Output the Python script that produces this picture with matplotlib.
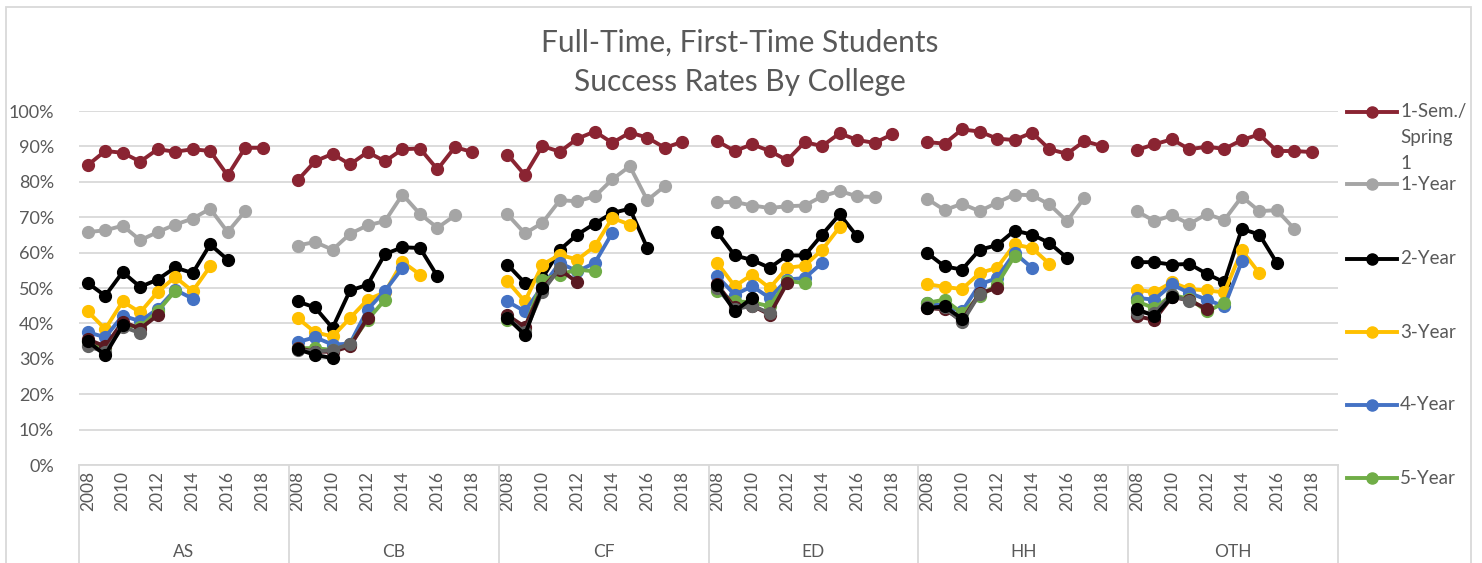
import numpy as np
import matplotlib.pyplot as plt
from matplotlib.lines import Line2D
from matplotlib.patches import Rectangle

plt.rcParams['font.family'] = ['Lato', 'DejaVu Sans']

colleges = ['AS', 'CB', 'CF', 'ED', 'HH', 'OTH']
n_slots = 12  # 2008..2019 per college, the 2019 slot stays empty
tick_years = [2008, 2010, 2012, 2014, 2016, 2018]

names = ['1-Sem./\nSpring\n1', '1-Year', '2-Year', '3-Year', '4-Year', '5-Year',
         '6-Year', '7-Year', '8-Year']
colors = ['#8A2432', '#A5A5A5', '#000000', '#FFC000', '#4472C4', '#70AD47',
          '#5A1A22', '#636363', '#000000']

# success rate (%) per college, starting at 2008
sem1 = [[84.7, 88.7, 88.2, 85.7, 89.2, 88.5, 89.2, 88.7, 81.8, 89.6, 89.6],
        [80.4, 85.8, 87.9, 84.9, 88.4, 85.8, 89.2, 89.4, 83.5, 89.8, 88.4],
        [87.7, 81.9, 90.1, 88.5, 92.2, 94.2, 91.0, 93.9, 92.5, 89.6, 91.3],
        [91.5, 88.7, 90.6, 88.7, 86.1, 91.2, 90.1, 93.7, 91.8, 91.0, 93.4],
        [91.2, 90.8, 94.8, 94.2, 92.2, 91.8, 93.9, 89.2, 87.9, 91.5, 90.1],
        [89.0, 90.6, 92.0, 89.2, 89.9, 89.3, 91.8, 93.4, 88.7, 88.7, 88.4]]
yr1 = [[65.8, 66.3, 67.6, 63.5, 65.8, 67.9, 69.6, 72.4, 65.8, 71.7],
       [62.0, 63.0, 60.8, 65.3, 67.7, 68.9, 76.4, 70.9, 67.0, 70.5],
       [70.8, 65.4, 68.4, 74.8, 74.5, 75.9, 80.7, 84.4, 74.8, 78.8],
       [74.2, 74.3, 73.3, 72.6, 73.1, 73.3, 75.9, 77.4, 75.9, 75.7],
       [75.2, 72.0, 73.8, 71.7, 74.1, 76.4, 76.2, 73.6, 68.9, 75.5],
       [71.7, 68.9, 70.5, 68.1, 70.9, 69.2, 75.8, 71.7, 72.0, 66.7]]
yr2 = [[51.4, 47.8, 54.5, 50.3, 52.4, 55.8, 54.2, 62.3, 58.0],
       [46.2, 44.5, 38.7, 49.3, 50.9, 59.6, 61.5, 61.3, 53.3],
       [56.6, 51.4, 52.8, 60.8, 65.1, 68.2, 71.2, 72.4, 61.3],
       [65.8, 59.2, 57.9, 55.7, 59.2, 59.2, 65.1, 70.8, 64.6],
       [59.9, 56.1, 55.2, 60.8, 62.1, 66.2, 65.1, 62.7, 58.5],
       [57.3, 57.3, 56.6, 56.8, 54.0, 51.6, 66.7, 65.1, 57.1]]
yr3 = [[43.4, 38.4, 46.2, 43.1, 48.9, 53.1, 49.1, 56.1],
       [41.5, 37.5, 36.3, 41.5, 46.7, 48.8, 57.4, 53.8],
       [51.9, 46.2, 56.6, 59.4, 58.0, 61.8, 69.8, 67.9],
       [57.1, 50.5, 53.8, 50.0, 55.7, 56.3, 60.8, 67.2],
       [51.1, 50.3, 49.7, 54.2, 55.7, 62.3, 61.3, 56.8],
       [49.5, 48.8, 51.6, 49.7, 49.3, 48.8, 60.6, 54.2]]
yr4 = [[37.5, 36.1, 42.2, 40.6, 44.1, 49.5, 47.0],
       [34.7, 36.1, 34.0, 34.3, 43.9, 49.2, 55.7],
       [46.2, 43.4, 50.5, 57.1, 54.7, 57.1, 65.6],
       [53.3, 48.1, 50.5, 47.2, 52.4, 52.8, 57.1],
       [45.8, 45.0, 43.4, 51.0, 52.8, 59.9, 55.7],
       [47.2, 46.7, 51.0, 48.6, 46.7, 44.8, 57.5]]
yr5 = [[35.0, 33.0, 39.5, 39.0, 43.4, 49.2],
       [33.0, 33.0, 32.5, 34.0, 41.0, 46.7],
       [41.0, 38.5, 52.4, 53.8, 55.2, 54.7],
       [49.1, 46.2, 46.0, 44.8, 52.0, 51.4],
       [45.8, 46.7, 42.9, 47.6, 51.0, 59.0],
       [46.2, 44.3, 48.0, 47.0, 43.4, 45.8]]
yr6 = [[35.5, 33.5, 40.5, 38.5, 42.3],
       [33.0, 32.0, 32.0, 33.5, 41.6],
       [42.3, 39.0, 50.0, 55.2, 51.6],
       [51.0, 44.5, 45.0, 42.5, 51.4],
       [44.3, 44.0, 40.8, 48.5, 50.0],
       [42.0, 41.0, 47.5, 46.5, 44.1]]
yr7 = [[33.5, 32.0, 39.0, 37.3],
       [32.5, 32.0, 32.5, 34.2],
       [41.5, 37.5, 49.0, 55.7],
       [50.0, 44.0, 45.0, 42.9],
       [44.5, 44.5, 40.3, 48.3],
       [43.0, 43.0, 48.0, 46.2]]
yr8 = [[34.9, 31.1, 39.5],
       [32.7, 31.1, 30.2],
       [41.5, 36.8, 50.0],
       [50.9, 43.4, 47.2],
       [44.3, 44.8, 41.3],
       [44.1, 42.0, 47.4]]
all_series = [sem1, yr1, yr2, yr3, yr4, yr5, yr6, yr7, yr8]

W, H = 1482, 563
fig = plt.figure(figsize=(W / 100, H / 100), dpi=100)
ax = fig.add_axes([79 / W, 1 - 465 / H, (1338 - 79) / W, (465 - 111) / H])

txt_col = '#595959'
grid_col = '#D9D9D9'

for vals, c in zip(all_series, colors):
    for g, v in enumerate(vals):
        x = g * n_slots + np.arange(len(v))
        ax.plot(x, v, color=c, lw=2.8, marker='o', ms=8.5, solid_capstyle='round')

ax.set_xlim(-0.5, len(colleges) * n_slots - 0.5)
ax.set_ylim(0, 100)
ax.set_yticks(np.arange(0, 101, 10))
ax.set_yticklabels([f'{v}%' for v in range(0, 101, 10)], fontsize=13, color=txt_col)
ax.grid(axis='y', color=grid_col, lw=1.3)
ax.set_axisbelow(True)

xt, xl = [], []
for g in range(len(colleges)):
    for y in tick_years:
        xt.append(g * n_slots + y - 2008)
        xl.append(str(y))
ax.set_xticks(xt)
ax.set_xticklabels(xl, rotation=90, fontsize=12.5, color=txt_col)
ax.tick_params(length=0)
ax.tick_params(axis='x', pad=4)
ax.tick_params(axis='y', pad=18)

for s in ['left', 'right', 'top']:
    ax.spines[s].set_visible(False)
ax.spines['bottom'].set_color(grid_col)
ax.spines['bottom'].set_linewidth(1.3)

# second category level: college names and separators
tr = ax.get_xaxis_transform()
for g in range(len(colleges) + 1):
    ax.plot([g * n_slots - 0.5] * 2, [0, -0.3], color=grid_col, lw=1.3,
            transform=tr, clip_on=False)
for g, name in enumerate(colleges):
    ax.text(g * n_slots + 5.5, -0.245, name, transform=tr, ha='center', va='center',
            fontsize=12.5, color=txt_col)

fig.text(740 / W, 1 - 43 / H, 'Full-Time, First-Time Students', ha='center',
         va='center', fontsize=21.5, color=txt_col)
fig.text(740 / W, 1 - 82 / H, 'Success Rates By College', ha='center',
         va='center', fontsize=21.5, color=txt_col)

# legend (only the first six entries fit in the frame)
leg_y = [112, 184, 259, 332, 405, 478]
for i, yp in enumerate(leg_y):
    yf = 1 - yp / H
    fig.add_artist(Line2D([1347 / W, 1397 / W], [yf, yf], color=colors[i], lw=2.8,
                          transform=fig.transFigure))
    fig.add_artist(Line2D([1372 / W], [yf], color=colors[i], marker='o', ms=8,
                          transform=fig.transFigure))
    if i == 0:
        fig.text(1400 / W, 1 - 103 / H, names[i], ha='left', va='top', fontsize=13.5,
                 color=txt_col, linespacing=1.65)
    else:
        fig.text(1400 / W, yf, names[i], ha='left', va='center', fontsize=13.5,
                 color=txt_col)

fig.add_artist(Rectangle((6 / W, -0.02), (1471 - 6) / W, 1.02 - 7 / H,
                         transform=fig.transFigure, fill=False,
                         edgecolor=grid_col, lw=1.3))

fig.savefig('out.png', dpi=100)
